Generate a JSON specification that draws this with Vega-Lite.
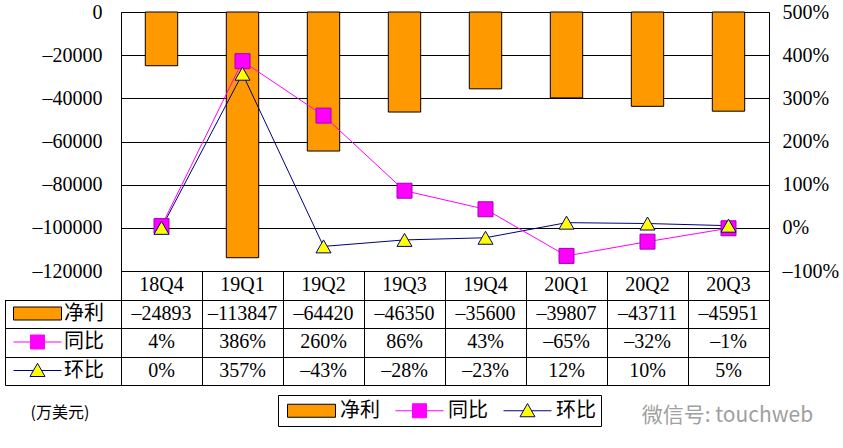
{
  "$schema": "https://vega.github.io/schema/vega-lite/v6.json",
  "padding": {"left": 4, "top": 1, "right": 0, "bottom": 0},
  "background": "white",
  "bounds": "flush",
  "spacing": 0,
  "data": {"values": [
    {"q": "18Q4", "净利": -24893, "同比": 0.04, "环比": 0},
    {"q": "19Q1", "净利": -113847, "同比": 3.86, "环比": 3.57},
    {"q": "19Q2", "净利": -64420, "同比": 2.60, "环比": -0.43},
    {"q": "19Q3", "净利": -46350, "同比": 0.86, "环比": -0.28},
    {"q": "19Q4", "净利": -35600, "同比": 0.43, "环比": -0.23},
    {"q": "20Q1", "净利": -39807, "同比": -0.65, "环比": 0.12},
    {"q": "20Q2", "净利": -43711, "同比": -0.32, "环比": 0.10},
    {"q": "20Q3", "净利": -45951, "同比": -0.01, "环比": 0.05}
  ]},
  "title": {"text": "微信号: touchweb", "orient": "bottom", "anchor": "end", "frame": "bounds", "font": "Noto Sans CJK SC", "fontSize": 21, "fontWeight": "normal", "color": "#a0a0a0", "offset": 0, "dy": -22, "dx": -26},
  "config": {
    "view": {"stroke": "black", "strokeWidth": 1},
    "locale": {"number": {"decimal": ".", "thousands": ",", "grouping": [3], "currency": ["", ""], "minus": "–"}},
    "axis": {"labelFont": "Liberation Serif", "labelFontSize": 20, "labelColor": "black"},
    "legend": {"labelFont": "Noto Sans CJK SC", "labelFontSize": 20, "labelColor": "black", "symbolStrokeWidth": 1, "symbolOpacity": 1}
  },
  "resolve": {
    "scale": {"fill": "independent", "stroke": "independent", "shape": "independent"},
    "legend": {"fill": "independent", "stroke": "independent", "shape": "independent"}
  },
  "vconcat": [
    {
      "width": 648,
      "height": 259,
      "layer": [
        {
          "mark": {"type": "bar", "color": "#FF9900", "stroke": "black", "strokeWidth": 1, "width": {"band": 0.4}},
          "encoding": {
            "x": {"field": "q", "type": "nominal", "scale": {"domain": ["18Q4","19Q1","19Q2","19Q3","19Q4","20Q1","20Q2","20Q3"], "paddingInner": 0, "paddingOuter": 0}, "axis": null},
            "y": {"field": "净利", "type": "quantitative", "scale": {"domain": [-120000, 0], "nice": false}, "axis": {"orient": "left", "values": [0, -20000, -40000, -60000, -80000, -100000, -120000], "format": "d", "ticks": false, "domain": false, "grid": true, "gridColor": "black", "gridWidth": 1, "gridOpacity": 1, "labelPadding": 19, "title": null}}
          }
        },
        {
          "encoding": {
            "x": {"field": "q", "type": "nominal", "scale": {"domain": ["18Q4","19Q1","19Q2","19Q3","19Q4","20Q1","20Q2","20Q3"]}, "axis": null}
          },
          "layer": [
            {"mark": {"type": "line", "strokeWidth": 1, "color": "#000080"},
             "encoding": {"y": {"field": "环比", "type": "quantitative", "scale": {"domain": [-1, 5], "nice": false, "zero": false}, "axis": {"orient": "right", "values": [-1, 0, 1, 2, 3, 4, 5], "format": ".0%", "ticks": false, "domain": false, "grid": false, "labelPadding": 13, "title": null}}}},
            {"mark": {"type": "line", "strokeWidth": 1, "color": "#FF00FF"},
             "encoding": {"y": {"field": "同比", "type": "quantitative"}}},
            {"mark": {"type": "point", "shape": "square", "filled": true, "size": 225, "fill": "#FF00FF", "stroke": "#A000C0", "strokeWidth": 1, "opacity": 1},
             "encoding": {"y": {"field": "同比", "type": "quantitative"}}},
            {"mark": {"type": "point", "shape": "triangle-up", "filled": true, "size": 225, "fill": "#FFFF00", "stroke": "#000080", "strokeWidth": 1, "opacity": 1},
             "encoding": {"y": {"field": "环比", "type": "quantitative"}}}
          ]
        },
        {
          "transform": [{"filter": "false"}],
          "mark": {"type": "point", "filled": true, "opacity": 1, "strokeWidth": 1},
          "encoding": {
            "fill": {"field": "series", "type": "nominal", "scale": {"domain": ["净利", "同比", "环比"], "range": ["#FF9900", "#FF00FF", "#FFFF00"]}, "legend": {
              "orient": "none", "legendX": 157, "legendY": 383, "direction": "horizontal", "title": null,
              "padding": 5, "strokeColor": "black", "fillColor": "white", "columnPadding": 11,
              "symbolSize": 400, "labelOffset": 36}},
            "stroke": {"field": "series", "type": "nominal", "scale": {"domain": ["净利", "同比", "环比"], "range": ["black", "#FF00FF", "#000080"]}, "legend": {
              "orient": "none", "legendX": 157, "legendY": 383, "direction": "horizontal", "title": null,
              "padding": 5, "strokeColor": "black", "fillColor": "white", "columnPadding": 11,
              "symbolSize": 400, "labelOffset": 36}},
            "shape": {"field": "series", "type": "nominal", "scale": {"domain": ["净利", "同比", "环比"], "range": ["M-0.6,-0.65H4.2V0.65H-0.6Z", "M-0.6,0H1.1M2.5,0H4.2M1.1,-0.7H2.5V0.7H1.1Z", "M-0.6,0H1.39M2.21,0H4.2M1.8,-0.72L2.55,0.6L1.05,0.6Z"]}, "legend": {
              "orient": "none", "legendX": 157, "legendY": 383, "direction": "horizontal", "title": null,
              "padding": 5, "strokeColor": "black", "fillColor": "white", "columnPadding": 11,
              "symbolSize": 400, "labelOffset": 36}}
          }
        }
      ],
      "resolve": {"scale": {"y": "independent"}}
    },
    {
      "width": 648,
      "height": 114,
      "title": {"text": "(万美元)", "orient": "bottom", "anchor": "start", "frame": "bounds", "font": "Noto Sans CJK SC", "fontSize": 16, "fontWeight": "normal", "color": "black", "offset": 19, "dx": 26},
      "layer": [
        {
          "mark": {"type": "text", "font": "Liberation Serif", "fontSize": 20, "color": "black"},
          "encoding": {
            "x": {"field": "q", "type": "nominal", "scale": {"domain": ["18Q4","19Q1","19Q2","19Q3","19Q4","20Q1","20Q2","20Q3"], "paddingInner": 0, "paddingOuter": 0}, "axis": {"labels": false, "ticks": false, "domain": false, "grid": true, "gridColor": "black", "gridOpacity": 1, "gridWidth": 1, "tickBand": "extent", "title": null}},
            "y": {"datum": "h", "type": "nominal", "scale": {"domain": ["h", "净利", "同比", "环比"], "paddingInner": 0, "paddingOuter": 0}, "axis": {"orient": "left", "offset": 116, "values": ["净利", "同比", "环比"], "labels": false, "ticks": true, "tickSize": -116, "tickColor": "black", "tickWidth": 1, "domain": true, "domainColor": "black", "domainWidth": 1, "domainDash": [0, 28.5, 85.5, 0], "grid": true, "gridColor": "black", "gridOpacity": 1, "gridWidth": 1, "tickBand": "extent", "title": null}},
            "text": {"field": "q"}
          }
        },
        {
          "mark": {"type": "text", "font": "Liberation Serif", "fontSize": 20, "color": "black"},
          "encoding": {
            "x": {"field": "q", "type": "nominal"},
            "y": {"datum": "净利", "type": "nominal"},
            "text": {"field": "净利", "type": "quantitative", "format": "d"}
          }
        },
        {
          "mark": {"type": "text", "font": "Liberation Serif", "fontSize": 20, "color": "black"},
          "encoding": {
            "x": {"field": "q", "type": "nominal"},
            "y": {"datum": "同比", "type": "nominal"},
            "text": {"field": "同比", "type": "quantitative", "format": ".0%"}
          }
        },
        {
          "mark": {"type": "text", "font": "Liberation Serif", "fontSize": 20, "color": "black"},
          "encoding": {
            "x": {"field": "q", "type": "nominal"},
            "y": {"datum": "环比", "type": "nominal"},
            "text": {"field": "环比", "type": "quantitative", "format": ".0%"}
          }
        },
        {
          "transform": [{"filter": "false"}],
          "mark": {"type": "point", "filled": true, "opacity": 1, "strokeWidth": 1},
          "encoding": {
            "fill": {"field": "series", "type": "nominal", "scale": {"domain": ["净利", "同比", "环比"], "range": ["#FF9900", "#FF00FF", "#FFFF00"]}, "legend": {
              "orient": "none", "legendX": -108, "legendY": 32, "direction": "vertical", "title": null,
              "padding": 0, "rowPadding": 7.5, "symbolSize": 400, "labelOffset": 30}},
            "stroke": {"field": "series", "type": "nominal", "scale": {"domain": ["净利", "同比", "环比"], "range": ["black", "#FF00FF", "#000080"]}, "legend": {
              "orient": "none", "legendX": -108, "legendY": 32, "direction": "vertical", "title": null,
              "padding": 0, "rowPadding": 7.5, "symbolSize": 400, "labelOffset": 30}},
            "shape": {"field": "series", "type": "nominal", "scale": {"domain": ["净利", "同比", "环比"], "range": ["M-1,-0.65H3.8V0.65H-1Z", "M-1,0H0.7M2.1,0H3.8M0.7,-0.7H2.1V0.7H0.7Z", "M-1,0H0.99M1.81,0H3.8M1.4,-0.72L2.15,0.6L0.65,0.6Z"]}, "legend": {
              "orient": "none", "legendX": -108, "legendY": 32, "direction": "vertical", "title": null,
              "padding": 0, "rowPadding": 7.5, "symbolSize": 400, "labelOffset": 30}}
          }
        }
      ]
    }
  ]
}
